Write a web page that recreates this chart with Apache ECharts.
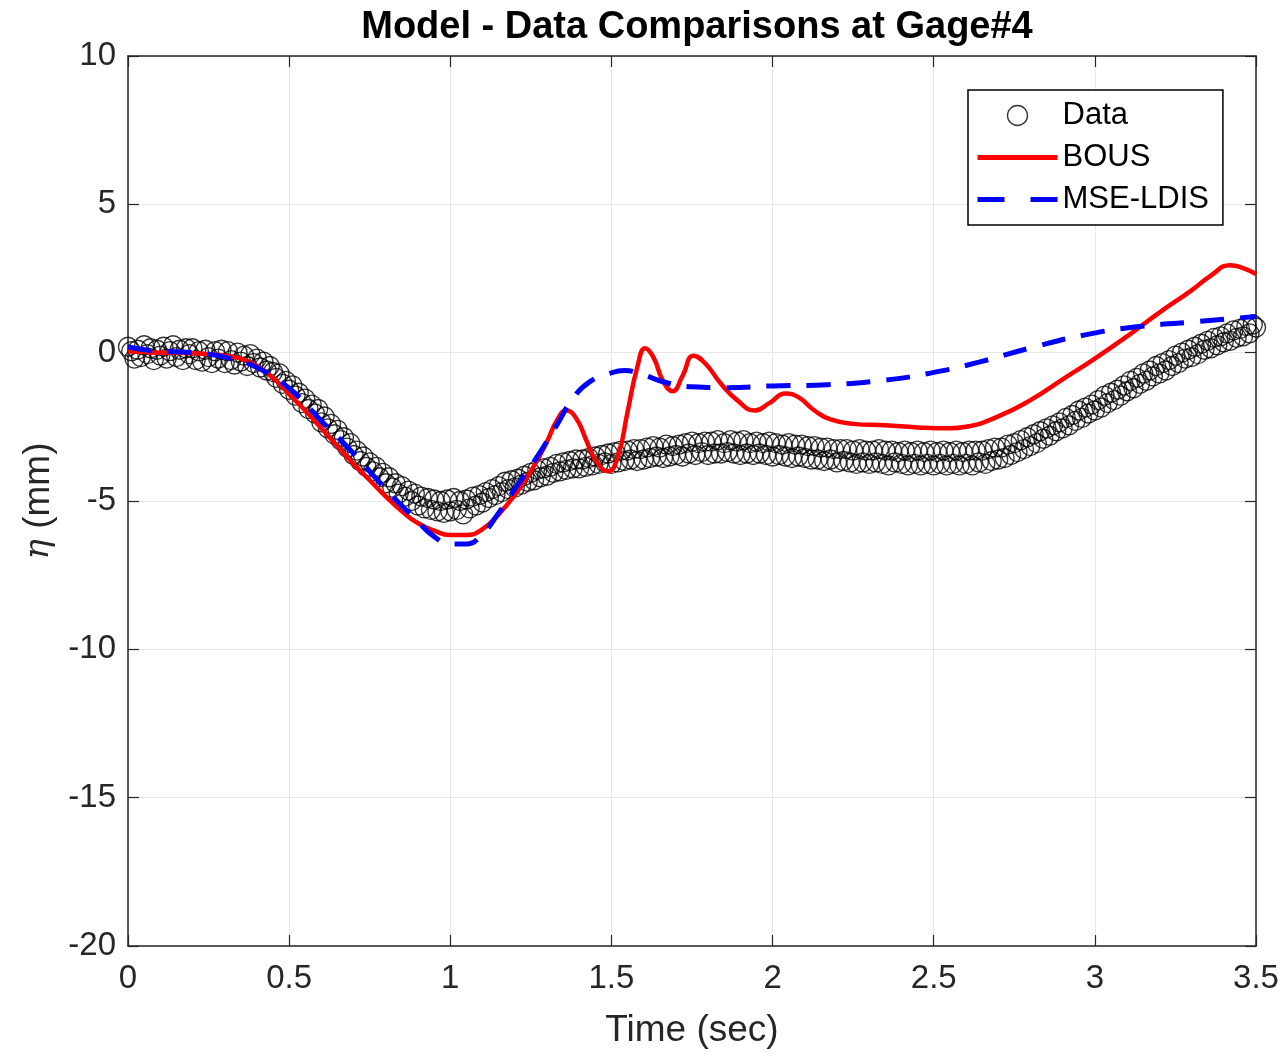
<!DOCTYPE html>
<html>
<head>
<meta charset="utf-8">
<script src="https://cdn.jsdelivr.net/npm/echarts@6/dist/echarts.min.js"></script>
<style>html,body{margin:0;padding:0;background:#fff;}#c{width:1284px;height:1054px;}</style>
</head>
<body>
<div id="c"></div>
<script>
// ---- data ----
const xTicks = [0, 0.5, 1, 1.5, 2, 2.5, 3, 3.5];
const yTicks = [-20, -15, -10, -5, 0, 5, 10];

const dataT = [
0,0.01,0.02,0.03,0.04,0.05,0.06,0.07,0.08,0.09,
0.1,0.11,0.12,0.13,0.14,0.15,0.16,0.17,0.18,0.19,
0.2,0.21,0.22,0.23,0.24,0.25,0.26,0.27,0.28,0.29,
0.3,0.31,0.32,0.33,0.34,0.35,0.36,0.37,0.38,0.39,
0.4,0.41,0.42,0.43,0.44,0.45,0.46,0.47,0.48,0.49,
0.5,0.51,0.52,0.53,0.54,0.55,0.56,0.57,0.58,0.59,
0.6,0.61,0.62,0.63,0.64,0.65,0.66,0.67,0.68,0.69,
0.7,0.71,0.72,0.73,0.74,0.75,0.76,0.77,0.78,0.79,
0.8,0.81,0.82,0.83,0.84,0.85,0.86,0.87,0.88,0.89,
0.9,0.91,0.92,0.93,0.94,0.95,0.96,0.97,0.98,0.99,
1,1.01,1.02,1.03,1.04,1.05,1.06,1.07,1.08,1.09,
1.1,1.11,1.12,1.13,1.14,1.15,1.16,1.17,1.18,1.19,
1.2,1.21,1.22,1.23,1.24,1.25,1.26,1.27,1.28,1.29,
1.3,1.31,1.32,1.33,1.34,1.35,1.36,1.37,1.38,1.39,
1.4,1.41,1.42,1.43,1.44,1.45,1.46,1.47,1.48,1.49,
1.5,1.51,1.52,1.53,1.54,1.55,1.56,1.57,1.58,1.59,
1.6,1.61,1.62,1.63,1.64,1.65,1.66,1.67,1.68,1.69,
1.7,1.71,1.72,1.73,1.74,1.75,1.76,1.77,1.78,1.79,
1.8,1.81,1.82,1.83,1.84,1.85,1.86,1.87,1.88,1.89,
1.9,1.91,1.92,1.93,1.94,1.95,1.96,1.97,1.98,1.99,
2,2.01,2.02,2.03,2.04,2.05,2.06,2.07,2.08,2.09,
2.1,2.11,2.12,2.13,2.14,2.15,2.16,2.17,2.18,2.19,
2.2,2.21,2.22,2.23,2.24,2.25,2.26,2.27,2.28,2.29,
2.3,2.31,2.32,2.33,2.34,2.35,2.36,2.37,2.38,2.39,
2.4,2.41,2.42,2.43,2.44,2.45,2.46,2.47,2.48,2.49,
2.5,2.51,2.52,2.53,2.54,2.55,2.56,2.57,2.58,2.59,
2.6,2.61,2.62,2.63,2.64,2.65,2.66,2.67,2.68,2.69,
2.7,2.71,2.72,2.73,2.74,2.75,2.76,2.77,2.78,2.79,
2.8,2.81,2.82,2.83,2.84,2.85,2.86,2.87,2.88,2.89,
2.9,2.91,2.92,2.93,2.94,2.95,2.96,2.97,2.98,2.99,
3,3.01,3.02,3.03,3.04,3.05,3.06,3.07,3.08,3.09,
3.1,3.11,3.12,3.13,3.14,3.15,3.16,3.17,3.18,3.19,
3.2,3.21,3.22,3.23,3.24,3.25,3.26,3.27,3.28,3.29,
3.3,3.31,3.32,3.33,3.34,3.35,3.36,3.37,3.38,3.39,
3.4,3.41,3.42,3.43,3.44,3.45,3.46,3.47,3.48,3.49,
3.5];
const dataY = [
0.2,0.05,-0.2,0.1,-0.15,0.25,-0.05,0.15,-0.25,0.1,
-0.1,0.2,-0.2,0.05,0.25,-0.15,0.1,-0.25,0.15,-0.05,
0.15,-0.25,0.05,-0.3,0.1,-0.15,-0.35,0.05,-0.2,0.1,
-0.35,0.05,-0.25,-0.4,0.0,-0.3,-0.1,-0.45,-0.05,-0.35,
-0.2,-0.5,-0.3,-0.6,-0.45,-0.65,-0.85,-0.7,-1.05,-0.95,
-1.25,-1.1,-1.45,-1.35,-1.7,-1.55,-1.9,-1.75,-2.05,-1.9,
-2.35,-2.15,-2.55,-2.4,-2.75,-2.6,-2.95,-2.85,-3.2,-3.05,
-3.45,-3.3,-3.65,-3.5,-3.85,-3.7,-4.0,-3.85,-4.2,-4.05,
-4.4,-4.2,-4.55,-4.4,-4.75,-4.5,-4.85,-4.65,-5.0,-4.75,
-5.15,-4.85,-5.25,-4.9,-5.3,-4.95,-5.35,-5.0,-5.4,-4.95,
-5.35,-4.9,-5.3,-5.0,-5.45,-4.95,-5.25,-4.85,-5.15,-4.8,
-5.05,-4.7,-4.9,-4.6,-4.8,-4.5,-4.7,-4.35,-4.6,-4.3,
-4.55,-4.25,-4.45,-4.15,-4.35,-4.05,-4.3,-3.95,-4.2,-3.9,
-4.15,-3.85,-4.05,-3.75,-4.0,-3.7,-3.95,-3.65,-3.9,-3.6,
-3.9,-3.6,-3.85,-3.55,-3.8,-3.5,-3.75,-3.45,-3.7,-3.4,
-3.75,-3.35,-3.7,-3.3,-3.65,-3.3,-3.6,-3.25,-3.65,-3.25,
-3.6,-3.2,-3.55,-3.15,-3.5,-3.2,-3.55,-3.1,-3.5,-3.15,
-3.45,-3.1,-3.5,-3.05,-3.4,-3.0,-3.45,-3.05,-3.35,-3.0,
-3.45,-3.0,-3.4,-2.95,-3.4,-3.05,-3.35,-2.95,-3.4,-3.0,
-3.45,-2.95,-3.4,-3.05,-3.45,-3.0,-3.4,-3.05,-3.45,-3.0,
-3.5,-3.05,-3.45,-3.1,-3.5,-3.05,-3.55,-3.1,-3.5,-3.1,
-3.55,-3.15,-3.6,-3.15,-3.6,-3.2,-3.65,-3.2,-3.6,-3.25,
-3.7,-3.25,-3.65,-3.25,-3.7,-3.3,-3.75,-3.25,-3.7,-3.3,
-3.75,-3.3,-3.7,-3.25,-3.75,-3.3,-3.8,-3.3,-3.7,-3.35,
-3.75,-3.3,-3.8,-3.35,-3.75,-3.3,-3.8,-3.35,-3.75,-3.3,
-3.8,-3.35,-3.75,-3.3,-3.8,-3.35,-3.75,-3.3,-3.8,-3.35,
-3.75,-3.3,-3.8,-3.3,-3.7,-3.3,-3.75,-3.25,-3.65,-3.2,
-3.6,-3.2,-3.55,-3.1,-3.45,-3.05,-3.35,-2.95,-3.25,-2.85,
-3.15,-2.75,-3.05,-2.65,-2.9,-2.55,-2.8,-2.45,-2.65,-2.35,
-2.55,-2.2,-2.45,-2.1,-2.3,-1.95,-2.2,-1.85,-2.05,-1.75,
-1.95,-1.6,-1.85,-1.45,-1.7,-1.35,-1.6,-1.25,-1.45,-1.1,
-1.3,-0.95,-1.2,-0.85,-1.05,-0.7,-0.95,-0.6,-0.8,-0.45,
-0.7,-0.35,-0.6,-0.25,-0.45,-0.1,-0.35,0.0,-0.2,0.1,
-0.15,0.2,-0.05,0.3,0.1,0.4,0.15,0.5,0.25,0.55,
0.35,0.65,0.4,0.75,0.5,0.8,0.55,0.9,0.65,0.95,
0.85];

const bousT = [0,0.05,0.1,0.15,0.2,0.25,0.3,0.35,0.4,0.45,0.5,0.55,0.6,0.65,0.7,0.75,0.8,0.85,0.9,0.95,
1.0,1.05,1.1,1.15,1.2,1.25,1.3,1.33,1.36,1.39,1.42,1.45,1.49,1.52,1.55,1.58,1.605,1.63,1.66,1.69,
1.72,1.755,1.79,1.84,1.89,1.945,1.99,2.04,2.08,2.13,2.18,2.25,2.35,2.45,2.55,2.6,2.7,2.8,2.9,3.0,
3.1,3.2,3.3,3.36,3.42,3.46,3.5];
const bousY = [0.05,0.02,0.0,0.0,-0.02,-0.05,-0.1,-0.2,-0.45,-0.85,-1.4,-1.95,-2.55,-3.15,-3.75,-4.3,-4.85,-5.35,-5.75,-6.0,
-6.15,-6.15,-5.95,-5.45,-4.8,-4.0,-3.0,-2.3,-1.95,-2.2,-2.9,-3.6,-4.0,-3.5,-2.0,-0.5,0.15,-0.15,-0.95,-1.3,
-0.8,-0.1,-0.35,-1.05,-1.6,-1.95,-1.7,-1.38,-1.5,-1.95,-2.25,-2.4,-2.45,-2.52,-2.55,-2.5,-2.15,-1.6,-0.9,-0.2,
0.55,1.35,2.1,2.6,2.95,2.85,2.65];

const mseT = [0,0.05,0.1,0.2,0.3,0.4,0.5,0.6,0.7,0.8,0.9,0.95,1.0,1.05,1.1,1.15,1.2,1.27,1.33,1.38,
1.43,1.49,1.54,1.6,1.66,1.75,1.85,2.0,2.17,2.33,2.49,2.64,2.8,2.97,3.13,3.3,3.5];
const mseY = [0.2,0.1,0.05,0.0,-0.15,-0.5,-1.2,-2.3,-3.4,-4.6,-5.7,-6.2,-6.45,-6.45,-6.1,-5.4,-4.6,-3.5,-2.45,-1.55,
-1.0,-0.72,-0.6,-0.75,-0.98,-1.15,-1.18,-1.12,-1.08,-0.95,-0.69,-0.32,0.16,0.6,0.87,1.03,1.22];

const seriesNames = ['Data', 'BOUS', 'MSE-LDIS'];
const titleText = 'Model - Data Comparisons at Gage#4';

// ---- chart ----
const zip = (a, b) => a.map((v, i) => [v, b[i]]);
const FONT = '"Liberation Sans", Arial, Helvetica, sans-serif';
const TXT = '#262626';
const chart = echarts.init(document.getElementById('c'), null, {renderer: 'canvas'});
const xBase = {
  type: 'value', min: xTicks[0], max: xTicks[xTicks.length - 1], interval: 0.5,
  axisLine: {show: true, onZero: false, lineStyle: {color: TXT, width: 1.5}},
  axisTick: {show: true, inside: true, length: 11, lineStyle: {color: TXT, width: 1.2}},
  splitLine: {show: false}
};
const yBase = {
  type: 'value', min: yTicks[0], max: yTicks[yTicks.length - 1], interval: 5,
  axisLine: {show: true, onZero: false, lineStyle: {color: TXT, width: 1.5}},
  axisTick: {show: true, inside: true, length: 11, lineStyle: {color: TXT, width: 1.2}},
  splitLine: {show: false}
};
chart.setOption({
  backgroundColor: '#ffffff',
  animation: false,
  title: {
    text: titleText, left: 692, top: 4, textAlign: 'center',
    textStyle: {fontFamily: FONT, fontSize: 38, fontWeight: 'bold', color: '#000'}
  },
  grid: {left: 128, right: 28, top: 56, bottom: 108, containLabel: false},
  legend: {
    orient: 'vertical', left: 968, top: 90,
    backgroundColor: '#fff', borderColor: '#000', borderWidth: 1.5, borderRadius: 0,
    padding: [10, 14, 10, 7], itemGap: 11, itemWidth: 80, itemHeight: 20,
    textStyle: {fontFamily: FONT, fontSize: 31, color: '#000'},
    data: [
      {name: seriesNames[0], icon: 'circle', itemStyle: {color: 'rgba(0,0,0,0)', borderColor: '#000', borderWidth: 1.3}},
      {name: seriesNames[1], itemStyle: {opacity: 0}, lineStyle: {color: '#ff0000', width: 5, type: 'solid', opacity: 1}},
      {name: seriesNames[2], itemStyle: {opacity: 0}, lineStyle: {color: '#0000ff', width: 5, type: [27, 26], opacity: 1}}
    ]
  },
  xAxis: [
    Object.assign({}, xBase, {
      position: 'bottom',
      name: 'Time (sec)', nameLocation: 'middle', nameGap: 66,
      nameTextStyle: {fontFamily: FONT, fontSize: 37, color: TXT},
      axisLabel: {show: true, margin: 16, fontFamily: FONT, fontSize: 33, color: TXT},
      splitLine: {show: true, lineStyle: {color: '#e6e6e6', width: 1}}
    }),
    Object.assign({}, xBase, {position: 'top', axisLabel: {show: false}})
  ],
  yAxis: [
    Object.assign({}, yBase, {
      position: 'left',
      name: '{i|η} (mm)', nameLocation: 'middle', nameGap: 68, nameRotate: 90,
      nameTextStyle: {fontFamily: FONT, fontSize: 37, color: TXT,
        rich: {i: {fontFamily: '"DejaVu Serif", "Liberation Serif", serif', fontStyle: 'italic', fontSize: 34, color: TXT}}},
      axisLabel: {show: true, margin: 12, fontFamily: FONT, fontSize: 33, color: TXT},
      splitLine: {show: true, lineStyle: {color: '#e6e6e6', width: 1}}
    }),
    Object.assign({}, yBase, {position: 'right', axisLabel: {show: false}})
  ],
  series: [
    {
      name: seriesNames[0], type: 'scatter', xAxisIndex: 0, yAxisIndex: 0,
      data: zip(dataT, dataY), symbol: 'circle', symbolSize: 19,
      itemStyle: {color: 'rgba(0,0,0,0)', borderColor: '#000', borderWidth: 1.35},
      z: 2
    },
    {
      name: seriesNames[1], type: 'line', xAxisIndex: 0, yAxisIndex: 0,
      data: zip(bousT, bousY), smooth: 0.5, showSymbol: false, symbol: 'none',
      lineStyle: {color: '#ff0000', width: 4.5}, itemStyle: {color: '#ff0000'},
      z: 3
    },
    {
      name: seriesNames[2], type: 'line', xAxisIndex: 0, yAxisIndex: 0,
      data: zip(mseT, mseY), smooth: 0.5, showSymbol: false, symbol: 'none',
      lineStyle: {color: '#0000ff', width: 5, type: [24, 16]}, itemStyle: {color: '#0000ff'},
      z: 4
    }
  ]
});
</script>
</body>
</html>
